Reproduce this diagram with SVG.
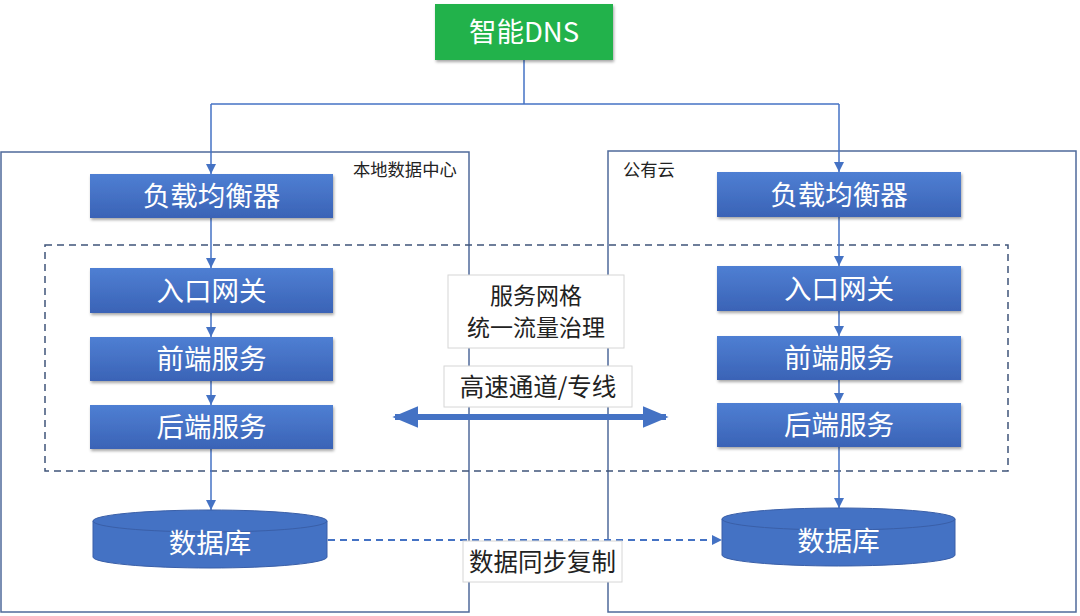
<svg xmlns="http://www.w3.org/2000/svg" width="1080" height="616" viewBox="0 0 1080 616">
<defs>
<linearGradient id="bg" x1="0" y1="0" x2="0" y2="1">
<stop offset="0" stop-color="#4f7fd3"/>
<stop offset="1" stop-color="#3a63b6"/>
</linearGradient>
<filter id="sh" x="-10%" y="-20%" width="120%" height="150%">
<feDropShadow dx="1" dy="2" stdDeviation="1.5" flood-color="#000" flood-opacity="0.35"/>
</filter>
<marker id="ah" viewBox="0 0 10 10" refX="10" refY="5" markerWidth="10" markerHeight="10" markerUnits="userSpaceOnUse" orient="auto">
<path d="M0,0 L10,5 L0,10 z" fill="#4472c4"/>
</marker>
<marker id="bigah" viewBox="0 0 10 10" refX="9" refY="5" markerWidth="26" markerHeight="22" markerUnits="userSpaceOnUse" orient="auto-start-reverse" preserveAspectRatio="none">
<path d="M0,0 L10,5 L0,10 z" fill="#4472c4"/>
</marker>
</defs>
<style>
.box{fill:url(#bg);filter:url(#sh);}
.bt{fill:#fff;font-family:"Noto Sans CJK SC","Noto Sans",sans-serif;font-size:27.5px;text-anchor:middle;dominant-baseline:central;}
.cont{fill:none;stroke:#4f6a9b;stroke-width:1.5;}
.lbl{fill:#222;font-family:"Noto Sans CJK SC","Noto Sans",sans-serif;font-size:17.3px;}
.mt{fill:#222;font-family:"Noto Sans CJK SC","Noto Sans",sans-serif;font-size:24.5px;text-anchor:middle;dominant-baseline:central;}
.mt2{fill:#222;font-family:"Noto Sans CJK SC","Noto Sans",sans-serif;font-size:23px;text-anchor:middle;dominant-baseline:central;}
.wb{fill:#fff;stroke:#d6d6d6;stroke-width:1;}
.ln{fill:none;stroke:#4472c4;stroke-width:1.5;}
</style>
<rect width="1080" height="616" fill="#fff"/>

<g id="containers">
<rect class="cont" x="1" y="152" width="468" height="460"/>
<text class="lbl" x="353" y="176">本地数据中心</text>
<rect class="cont" x="608" y="151" width="468" height="461"/>
<text class="lbl" x="623" y="176">公有云</text>
</g>

<g id="mesh">
<rect x="45" y="245" width="963" height="226" fill="none" stroke="#3f5479" stroke-width="1.5" stroke-dasharray="7,5"/>
</g>

<g id="connectors">
<path class="ln" d="M524,60 V104"/>
<path class="ln" d="M211,104 H839"/>
<path class="ln" d="M211,104 V174" marker-end="url(#ah)"/>
<path class="ln" d="M839,104 V172" marker-end="url(#ah)"/>
<path class="ln" d="M211,218 V268" marker-end="url(#ah)"/>
<path class="ln" d="M211,313 V337" marker-end="url(#ah)"/>
<path class="ln" d="M211,381 V405" marker-end="url(#ah)"/>
<path class="ln" d="M211,449 V510" marker-end="url(#ah)"/>
<path class="ln" d="M839,217 V266" marker-end="url(#ah)"/>
<path class="ln" d="M839,311 V336" marker-end="url(#ah)"/>
<path class="ln" d="M839,380 V403" marker-end="url(#ah)"/>
<path class="ln" d="M839,447 V508" marker-end="url(#ah)"/>
<path d="M395,417 H666" fill="none" stroke="#4472c4" stroke-width="6" marker-start="url(#bigah)" marker-end="url(#bigah)"/>
<path d="M328,540 H722" fill="none" stroke="#4472c4" stroke-width="2" stroke-dasharray="7,5" marker-start="url(#ah)" marker-end="url(#ah)"/>
</g>

<g id="dns">
<rect x="435" y="4" width="178" height="56" fill="#22b24c" filter="url(#sh)"/>
<text class="bt" x="524" y="30">智能DNS</text>
</g>

<g id="lb-left"><rect class="box" x="90" y="174" width="243" height="44"/><text class="bt" x="211.5" y="194">负载均衡器</text></g>
<g id="gw-left"><rect class="box" x="90" y="268" width="243" height="45"/><text class="bt" x="211.5" y="288.5">入口网关</text></g>
<g id="fe-left"><rect class="box" x="90" y="337" width="243" height="44"/><text class="bt" x="211.5" y="357">前端服务</text></g>
<g id="be-left"><rect class="box" x="90" y="405" width="243" height="44"/><text class="bt" x="211.5" y="425">后端服务</text></g>

<g id="lb-right"><rect class="box" x="717" y="172" width="244" height="45"/><text class="bt" x="839" y="192.5">负载均衡器</text></g>
<g id="gw-right"><rect class="box" x="717" y="266" width="244" height="45"/><text class="bt" x="839" y="286.5">入口网关</text></g>
<g id="fe-right"><rect class="box" x="717" y="336" width="244" height="44"/><text class="bt" x="839" y="356">前端服务</text></g>
<g id="be-right"><rect class="box" x="717" y="403" width="244" height="44"/><text class="bt" x="839" y="423">后端服务</text></g>

<g id="db-left">
<path d="M93,521 V557 A117,11 0 0 0 327,557 V521 Z" fill="#4472c4" stroke="#3a5fa8" stroke-width="1"/>
<ellipse cx="210" cy="521" rx="117" ry="11" fill="#4472c4" stroke="#3a5fa8" stroke-width="1"/>
<text class="bt" x="210" y="541">数据库</text>
</g>
<g id="db-right">
<path d="M722,519 V555 A116.5,11 0 0 0 955,555 V519 Z" fill="#4472c4" stroke="#3a5fa8" stroke-width="1"/>
<ellipse cx="838.5" cy="519" rx="116.5" ry="11" fill="#4472c4" stroke="#3a5fa8" stroke-width="1"/>
<text class="bt" x="838.5" y="539">数据库</text>
</g>

<g id="mesh-label">
<rect class="wb" x="448" y="275" width="176" height="73"/>
<text class="mt2" x="536" y="293.5">服务网格</text>
<text class="mt2" x="536" y="326">统一流量治理</text>
</g>
<g id="channel-label">
<rect class="wb" x="444" y="366" width="188" height="41"/>
<text class="mt" x="538" y="385">高速通道/专线</text>
</g>
<g id="sync-label">
<rect class="wb" x="463" y="541" width="159" height="41"/>
<text class="mt" x="542.5" y="560">数据同步复制</text>
</g>
</svg>
